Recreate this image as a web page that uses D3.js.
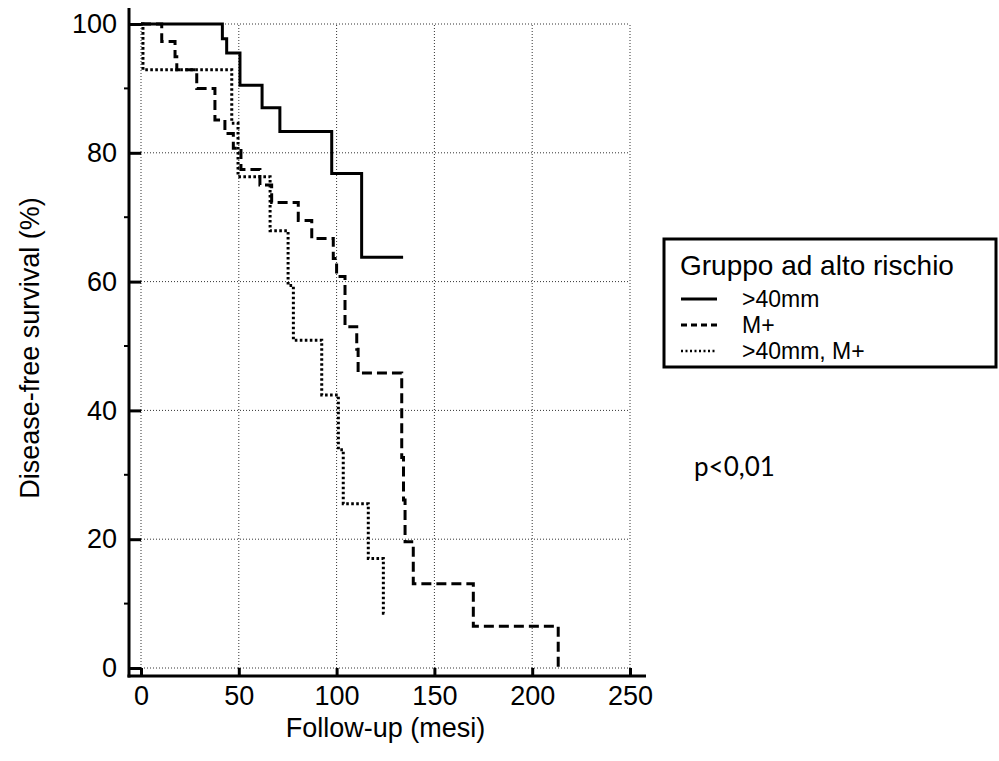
<!DOCTYPE html>
<html>
<head>
<meta charset="utf-8">
<script src="https://cdn.jsdelivr.net/npm/d3@7"></script>
<style>
  body { margin: 0; background: #fff; }
  text { font-family: "Liberation Sans", Arial, sans-serif; fill: #000; }
</style>
</head>
<body>
<svg id="km"></svg>
<script>
// Kaplan-Meier curves (months, % disease-free)
const solidTimes  = [0, 41.6, 43.8, 50.6, 61.9, 71.0, 97.5, 112.8, 134];
const solidSurv   = [100, 97.7, 95.5, 90.5, 87.0, 83.3, 76.8, 63.8, 63.8];

const dashedTimes = [0, 10.6, 17.4, 18.3, 28.5, 37.8, 42.9, 47.2, 51.1, 60.8, 66.8, 80.4, 87.3, 98.3, 100, 104.3, 110.3, 111, 133.3, 134.2, 135, 139.2, 169.9, 213.3, 213.3];
const dashedSurv  = [100, 97.3, 94.9, 92.9, 90.0, 85.1, 83.0, 80.7, 77.4, 75.0, 72.3, 69.5, 66.7, 63.6, 60.8, 53.0, 49.5, 45.8, 32.7, 26.1, 19.6, 13.1, 6.5, 0, 0];

const dottedTimes = [0, 1, 46.4, 49.6, 66.0, 75.2, 77.9, 92.4, 100.9, 103.4, 116.2, 123.9, 125];
const dottedSurv  = [100, 92.9, 84.6, 76.3, 67.9, 59.4, 50.9, 42.4, 33.9, 25.5, 17.0, 8.5, 8.5];

const xTicks = [0, 50, 100, 150, 200, 250];
const yTicks = [0, 20, 40, 60, 80, 100];
const yMinorTicks = [10, 30, 50, 70, 90];

const legendTitle = "Gruppo ad alto rischio";
const groupNames = [">40mm", "M+", ">40mm, M+"];
const pText = "p<0,01";

const W = 999, H = 761;
const svg = d3.select("#km").attr("width", W).attr("height", H);

const x = d3.scaleLinear().domain([0, 250]).range([141, 630]);
const y = d3.scaleLinear().domain([0, 100]).range([668, 24]);

const axisX = 129, axisY = 676;

// dotted grid
svg.append("g").selectAll("line").data(xTicks).enter().append("line")
  .attr("x1", d => x(d)).attr("x2", d => x(d))
  .attr("y1", y(0)).attr("y2", y(100))
  .attr("stroke", "#333").attr("stroke-width", 1).attr("stroke-dasharray", "1,2");
svg.append("g").selectAll("line").data(yTicks).enter().append("line")
  .attr("x1", x(0)).attr("x2", x(250))
  .attr("y1", d => y(d)).attr("y2", d => y(d))
  .attr("stroke", "#333").attr("stroke-width", 1).attr("stroke-dasharray", "1,2");

// axes
const gy = svg.append("g").attr("transform", `translate(${axisX},0)`)
  .call(d3.axisLeft(y).tickValues(yTicks).tickSize(-(x(0) - axisX)).tickPadding(12));
const gx = svg.append("g").attr("transform", `translate(0,${axisY})`)
  .call(d3.axisBottom(x).tickValues(xTicks).tickSize(-(axisY - y(0))).tickPadding(10));
[gx, gy].forEach(g => {
  g.select(".domain").remove();
  g.selectAll(".tick line").attr("stroke", "#000").attr("stroke-width", 3);
  g.selectAll(".tick text").style("font-size", "27px").attr("font-family", null);
});
svg.append("g").attr("transform", `translate(${axisX},0)`)
  .selectAll("line").data(yMinorTicks).enter().append("line")
  .attr("x1", -5).attr("x2", 0).attr("y1", d => y(d)).attr("y2", d => y(d))
  .attr("stroke", "#000").attr("stroke-width", 2);

svg.append("line").attr("x1", axisX).attr("x2", axisX).attr("y1", 8).attr("y2", axisY + 1.5)
  .attr("stroke", "#000").attr("stroke-width", 3);
svg.append("line").attr("x1", axisX - 1.5).attr("x2", 646).attr("y1", axisY).attr("y2", axisY)
  .attr("stroke", "#000").attr("stroke-width", 3);

// axis titles
svg.append("text").attr("x", (x(0) + x(250)) / 2).attr("y", 737)
  .attr("text-anchor", "middle").style("font-size", "27px").text("Follow-up (mesi)");
svg.append("text").attr("transform", "translate(39,348) rotate(-90)")
  .attr("text-anchor", "middle").style("font-size", "27px").text("Disease-free survival (%)");

// curves
const step = d3.line().x(d => x(d[0])).y(d => y(d[1])).curve(d3.curveStepAfter);
const styles = [
  { dash: null, cap: "butt", w: 3 },
  { dash: "10,5", cap: "butt", w: 3 },
  { dash: "2.6,2.4", cap: "butt", w: 3 }
];
const series = [
  d3.zip(solidTimes, solidSurv),
  d3.zip(dashedTimes, dashedSurv),
  d3.zip(dottedTimes, dottedSurv)
];
series.forEach((s, i) => {
  svg.append("path").datum(s).attr("d", step)
    .attr("fill", "none").attr("stroke", "#000").attr("stroke-width", styles[i].w)
    .attr("stroke-dasharray", styles[i].dash).attr("stroke-linecap", styles[i].cap);
});

// legend
const lg = svg.append("g");
lg.append("rect").attr("x", 664).attr("y", 239).attr("width", 332).attr("height", 128)
  .attr("fill", "#fff").attr("stroke", "#000").attr("stroke-width", 3);
lg.append("text").attr("x", 680).attr("y", 275).style("font-size", "28px").text(legendTitle);
groupNames.forEach((name, i) => {
  const ly = 299 + i * 26;
  lg.append("line").attr("x1", 681).attr("x2", 717).attr("y1", ly).attr("y2", ly)
    .attr("stroke", "#000").attr("stroke-width", i === 2 ? 2.5 : 3)
    .attr("stroke-dasharray", i === 1 ? "6,4" : (i === 2 ? "2,2.5" : null));
  lg.append("text").attr("x", 742).attr("y", ly + 8).style("font-size", "23px").text(name);
});

svg.append("text").attr("x", 694).attr("y", 476)
  .style("font-family", "Lato, 'Open Sans', sans-serif").style("font-size", "26px").text(pText);
</script>
</body>
</html>
